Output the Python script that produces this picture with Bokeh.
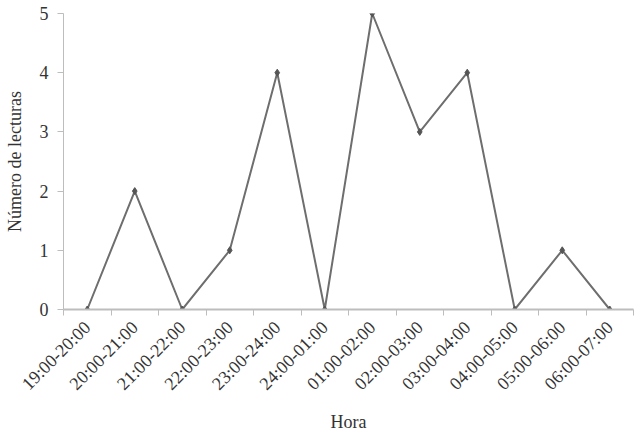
import math
from bokeh.plotting import figure
from bokeh.models import FixedTicker, ColumnDataSource, Range1d
from bokeh.embed import file_html
from bokeh.resources import INLINE

categories = ["19:00-20:00", "20:00-21:00", "21:00-22:00", "22:00-23:00",
              "23:00-24:00", "24:00-01:00", "01:00-02:00", "02:00-03:00",
              "03:00-04:00", "04:00-05:00", "05:00-06:00", "06:00-07:00"]
lecturas = [0, 2, 0, 1, 4, 0, 5, 3, 4, 0, 1, 0]
y_ticks = [0, 1, 2, 3, 4, 5]

n = len(categories)
xs = [i + 0.5 for i in range(n)]
src = ColumnDataSource(dict(x=xs, y=lecturas))

FONT = "Liberation Serif"
TXT = "#333333"
AX = "#bdbdbd"

p = figure(width=634, height=434, output_backend="svg", toolbar_location=None,
           x_range=Range1d(0, n), y_range=Range1d(0, 5),
           min_border_left=63, min_border_right=1, min_border_top=13,
           min_border_bottom=0)
p.outline_line_color = None
p.xgrid.grid_line_color = None
p.ygrid.grid_line_color = None

p.line("x", "y", source=src, line_color="#6e6e6e", line_width=2)
p.scatter("x", "y", source=src, marker="diamond", size=7,
          fill_color="#555555", line_color="#555555")

# x axis: labels at category centres, tick marks at category boundaries
p.xaxis.ticker = FixedTicker(ticks=xs, minor_ticks=list(range(n + 1)))
p.xaxis.major_label_overrides = {x: c for x, c in zip(xs, categories)}
p.xaxis.major_label_orientation = math.pi / 4
p.xaxis.major_tick_out = 0
p.xaxis.major_tick_in = 0
p.xaxis.minor_tick_out = 6
p.xaxis.minor_tick_in = 0
p.xaxis.minor_tick_line_color = AX
p.xaxis.axis_line_color = AX
p.xaxis.axis_line_width = 2
p.xaxis.major_label_standoff = 9
p.xaxis.axis_label = "Hora"
p.xaxis.axis_label_standoff = 8

p.yaxis.ticker = FixedTicker(ticks=y_ticks, minor_ticks=[])
p.yaxis.major_tick_out = 6
p.yaxis.major_tick_in = 0
p.yaxis.major_tick_line_color = AX
p.yaxis.axis_line_color = AX
p.yaxis.major_label_standoff = 9
p.yaxis.axis_label = "Número de lecturas"
p.yaxis.axis_label_standoff = 12

for ax in (p.xaxis, p.yaxis):
    ax.major_label_text_font = FONT
    ax.major_label_text_font_size = "18px"
    ax.major_label_text_color = TXT
    ax.axis_label_text_font = FONT
    ax.axis_label_text_font_size = "18px"
    ax.axis_label_text_font_style = "normal"
    ax.axis_label_text_color = TXT

open("out.html", "w").write(file_html(p, INLINE))
